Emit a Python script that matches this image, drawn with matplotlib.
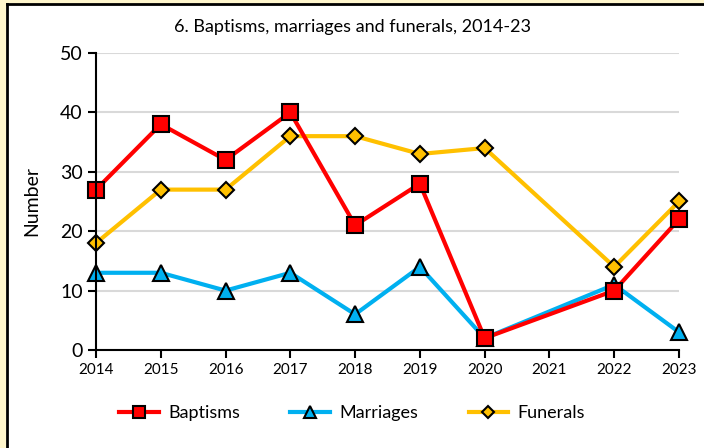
import numpy as np
import matplotlib.pyplot as plt
from matplotlib.patches import Rectangle
from matplotlib.lines import Line2D

plt.rcParams['font.family'] = ['Lato', 'DejaVu Sans']

years = ['2014', '2015', '2016', '2017', '2018', '2019', '2020', '2021', '2022', '2023']
baptisms = [27, 38, 32, 40, 21, 28, 2, np.nan, 10, 22]
marriages = [13, 13, 10, 13, 6, 14, 2, np.nan, 11, 3]
funerals = [18, 27, 27, 36, 36, 33, 34, np.nan, 14, 25]

fig = plt.figure(figsize=(7.04, 4.48), dpi=100)
fig.patch.set_facecolor('white')

# yellow frame strip with dark line on left and top
fig.patches.append(Rectangle((0, 0), 6 / 704, 1, transform=fig.transFigure,
                             facecolor='#FFF6CC', edgecolor='none', zorder=0))
fig.patches.append(Rectangle((0, 1 - 4 / 448), 1, 4 / 448, transform=fig.transFigure,
                             facecolor='#FFF6CC', edgecolor='none', zorder=0))
fig.lines.append(Line2D([6.5 / 704, 6.5 / 704], [0, 1 - 4 / 448], transform=fig.transFigure,
                        color='black', linewidth=2))
fig.lines.append(Line2D([6.5 / 704, 1], [1 - 4.5 / 448, 1 - 4.5 / 448], transform=fig.transFigure,
                        color='black', linewidth=2))

ax = fig.add_axes([96 / 704, (448 - 350) / 448, (679 - 96) / 704, (350 - 53) / 448])

x = np.arange(len(years))
series = [
    ('Marriages', marriages, '#00B0F0', '^', 11),
    ('Funerals', funerals, '#FFC000', 'D', 8),
    ('Baptisms', baptisms, '#FF0000', 's', 11),
]
handles = {}
for name, vals, color, marker, ms in series:
    v = np.array(vals, dtype=float)
    m = ~np.isnan(v)
    h, = ax.plot(x[m], v[m], color=color, linewidth=3, marker=marker, markersize=ms,
                 markerfacecolor=color, markeredgecolor='black', markeredgewidth=1.5,
                 clip_on=False, label=name)
    handles[name] = h

ax.set_xlim(0, 9)
ax.set_ylim(0, 50)
ax.set_xticks(x)
ax.set_xticklabels(years, fontsize=11)
ax.set_yticks(range(0, 51, 10))
ax.tick_params(axis='y', labelsize=14, length=6, width=1.5, direction='out')
ax.tick_params(axis='x', length=6, width=1.5, direction='out')
ax.yaxis.grid(True, color='#D9D9D9', linewidth=1.5)
ax.set_axisbelow(True)
for s in ['top', 'right']:
    ax.spines[s].set_visible(False)
ax.spines['left'].set_linewidth(1.5)
ax.spines['bottom'].set_linewidth(1.5)
ax.set_ylabel('Number', fontsize=14, labelpad=14)

fig.text(0.5, 1 - 27 / 448, '6. Baptisms, marriages and funerals, 2014-23',
         ha='center', va='center', fontsize=13)

order = ['Baptisms', 'Marriages', 'Funerals']
fig.legend([handles[k] for k in order], order, loc='center', ncol=3,
           bbox_to_anchor=(0.5, 1 - 413 / 448), frameon=False, fontsize=13,
           handlelength=2.2, columnspacing=2.8, handletextpad=0.5, markerscale=0.75)

fig.savefig('out.png', dpi=100)
